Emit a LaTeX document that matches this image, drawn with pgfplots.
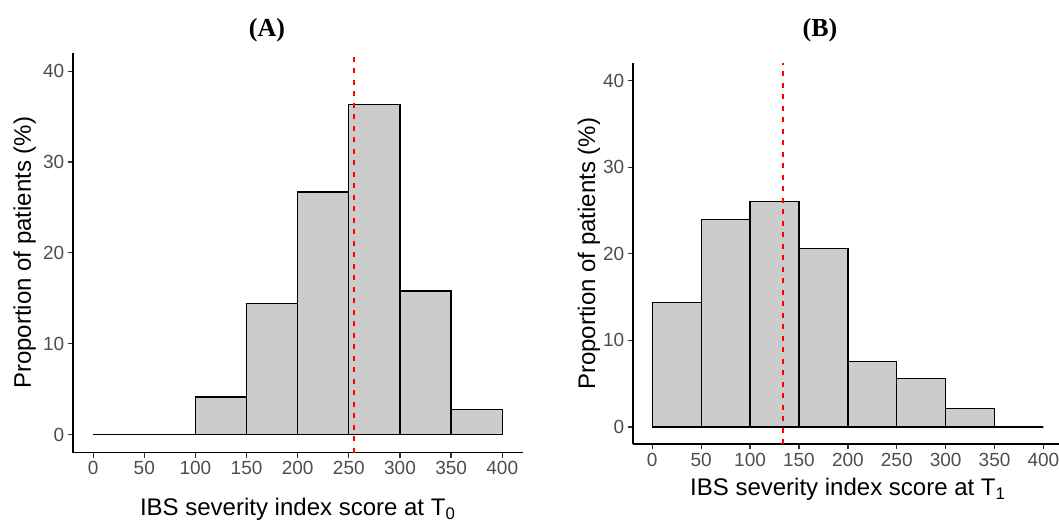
\documentclass[border=0pt]{standalone}
\usepackage{fontspec}
\setmainfont{Liberation Sans}
\newfontfamily\titlefont{Liberation Serif}
\usepackage{pgfplots}
\pgfplotsset{compat=1.18}
\definecolor{barfill}{RGB}{204,204,204}
\definecolor{tickgray}{RGB}{77,77,77}
\definecolor{axisdark}{RGB}{51,51,51}
\definecolor{meanred}{RGB}{255,0,0}
\pgfplotsset{
  histo/.style={
    scale only axis,
    axis x line*=bottom, axis y line*=left,
    axis line style={-, black, line width=1.6pt},
    tick align=outside,
    major tick length=5pt,
    tick style={axisdark, line width=1.3pt},
    xmin=-20, xmax=420, ymin=-2, ymax=42,
    xtick={0,50,...,400}, ytick={0,10,20,30,40},
    x tick label as interval=false,
    ticklabel style={font=\fontsize{19}{21}\selectfont, text=tickgray},
    /pgf/number format/assume math mode=true,
    label style={font=\fontsize{24}{28}\selectfont},
    clip=false,
  },
  bars/.style={ybar interval, fill=barfill, draw=black, line width=1.3pt},
  mean/.style={draw=meanred, color=meanred, line width=2pt, dash pattern=on 5pt off 6.5pt, mark=none},
}
\pgfplotstableread{
x y
0 0
50 0
100 4.14
150 14.4
200 26.7
250 36.3
300 15.8
350 2.75
400 0
}\dataA
\pgfplotstableread{
x y
0 14.4
50 24.0
100 26.07
150 20.6
200 7.6
250 5.56
300 2.14
350 0
400 0
}\dataB
\begin{document}
\begin{tikzpicture}
\useasboundingbox (0pt,0pt) rectangle (1059pt,521pt);
\node[anchor=base, font=\titlefont\bfseries\fontsize{26}{28}\selectfont] at (267pt,484pt) {(A)};
\node[anchor=base, font=\titlefont\bfseries\fontsize{26}{28}\selectfont] at (820pt,484pt) {(B)};
\begin{axis}[histo,
  at={(72.7pt,68.3pt)}, anchor=south west,
  width=450pt, height=399.7pt,
  xlabel={IBS severity index score at T\textsubscript{0}},
  ylabel={Proportion of patients (\%)},
  xlabel style={at={(axis description cs:0.5,-0.157)}, anchor=base},
  ylabel style={at={(axis description cs:-0.0927,0.5)}, anchor=base},
]
\addplot[bars] table[x=x,y=y] {\dataA};
\addplot[mean] coordinates {(254.8,-2) (254.8,42)};
\end{axis}
\begin{axis}[histo,
  at={(632.7pt,76.7pt)}, anchor=south west,
  width=430.3pt, height=381pt,
  xlabel={IBS severity index score at T\textsubscript{1}},
  ylabel={Proportion of patients (\%)},
  xlabel style={at={(axis description cs:0.5,-0.1357)}, anchor=base},
  ylabel style={at={(axis description cs:-0.0876,0.5)}, anchor=base},
]
\addplot[bars] table[x=x,y=y] {\dataB};
\addplot[mean] coordinates {(133.8,-2) (133.8,42)};
\end{axis}
\end{tikzpicture}
\end{document}
